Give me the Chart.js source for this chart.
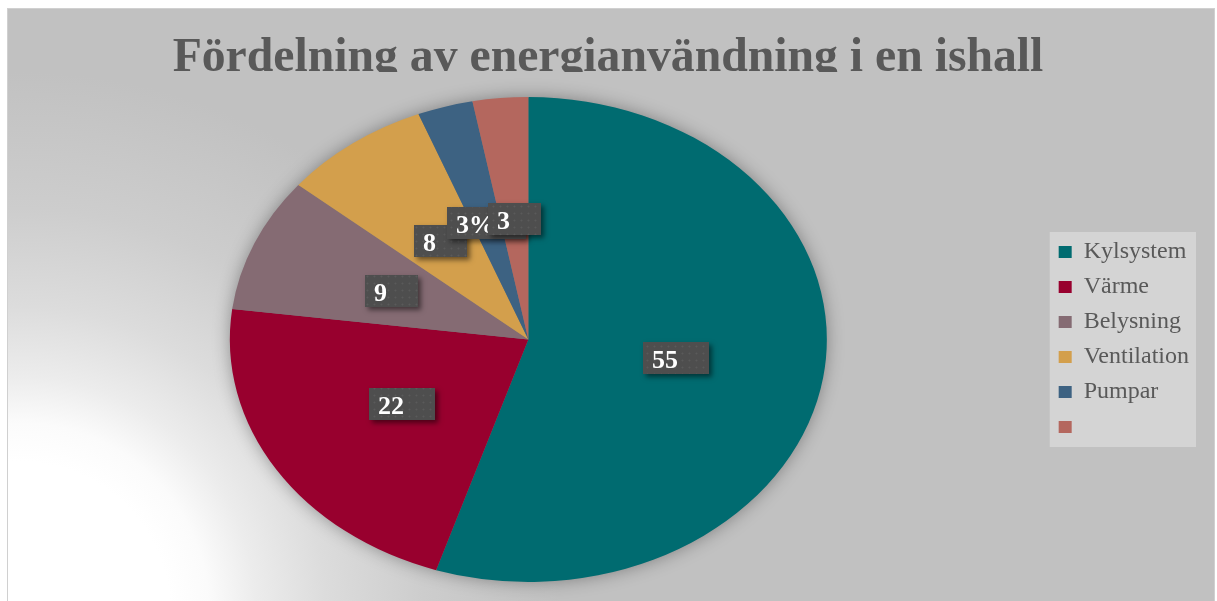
<!DOCTYPE html>
<html lang="sv">
<head>
<meta charset="utf-8">
<title>Fördelning av energianvändning i en ishall</title>
<script src="https://cdn.jsdelivr.net/npm/chart.js@4.4.1/dist/chart.umd.min.js"></script>
<style>
    html, body { margin: 0; padding: 0; background: #fff; overflow: hidden; }
    #wrap { width: 1217px; height: 601px; }
</style>
</head>
<body>
<div id="wrap"><canvas id="ishallChart" width="1217" height="601"></canvas></div>
<script>
// Datos del gráfico
const chartTitle = 'Fördelning av energianvändning i en ishall';
// la leyenda original muestra 6 marcadores pero solo 5 nombres
const legendNames = ['Kylsystem', 'Värme', 'Belysning', 'Ventilation', 'Pumpar', ''];
const shares = [55, 22, 9, 8, 3, 3];
const valueLabels = ['55', '22', '9', '8', '3%', '3'];
const sliceColors = ['#006b70', '#98002e', '#856b73', '#d39f4c', '#3d6282', '#b4675e'];

const serif = '"Liberation Serif", "Times New Roman", serif';
const stretchX = 298.5 / 242.5; // la torta es una elipse, más ancha que alta

// Patrón punteado de las etiquetas
const tile = document.createElement('canvas');
tile.width = 7; tile.height = 7;
const tctx = tile.getContext('2d');
tctx.fillStyle = '#4e4e4e';
tctx.fillRect(0, 0, 7, 7);
tctx.fillStyle = '#5a5a5a';
tctx.beginPath(); tctx.arc(3.5, 3.5, 1.1, 0, Math.PI * 2); tctx.fill();

// Fondo, título y caja de leyenda
const backdrop = {
    id: 'backdrop',
    beforeDraw(chart) {
        const ctx = chart.ctx;
        ctx.save();
        ctx.fillStyle = '#fff';
        ctx.fillRect(0, 0, chart.width, chart.height);
        const g = ctx.createRadialGradient(20, 612, 150, 20, 612, 540);
        g.addColorStop(0, '#ffffff');
        g.addColorStop(0.1, '#fbfbfb');
        g.addColorStop(0.22, '#ececec');
        g.addColorStop(0.4, '#dcdcdc');
        g.addColorStop(0.65, '#cdcdcd');
        g.addColorStop(1, '#c1c1c1');
        ctx.fillStyle = g;
        ctx.fillRect(7, 8, 1208, 600);
        ctx.strokeStyle = '#d0d0d0';
        ctx.lineWidth = 1;
        ctx.strokeRect(7.5, 8.5, 1207, 600);

        // título recortado abajo, como en el original
        ctx.beginPath();
        ctx.rect(0, 0, chart.width, 72);
        ctx.clip();
        let size = 50;
        ctx.font = `bold ${size}px ${serif}`;
        size = size * 871 / ctx.measureText(chartTitle).width;
        ctx.font = `bold ${size}px ${serif}`;
        ctx.fillStyle = '#595959';
        ctx.textAlign = 'center';
        ctx.textBaseline = 'alphabetic';
        ctx.fillText(chartTitle, 608, 71);
        ctx.restore();

        const boxes = chart.legend && chart.legend.legendHitBoxes;
        if (boxes && boxes.length) {
            const l = Math.min(...boxes.map(b => b.left)) - 9;
            const r = Math.max(...boxes.map(b => b.left + b.width)) + 7;
            const t = boxes[0].top - 8;
            const b = boxes[boxes.length - 1].top + boxes[boxes.length - 1].height + 8;
            ctx.save();
            ctx.fillStyle = '#d4d4d4';
            ctx.fillRect(l, t, r - l, b - t);
            ctx.restore();
        }
    }
};

// Estirar la torta en horizontal (elipse) + sombra suave
let stretched = false;
const ellipsePie = {
    id: 'ellipsePie',
    beforeDatasetsDraw(chart) {
        const arc = chart.getDatasetMeta(0).data[0];
        if (!arc) return;
        const ctx = chart.ctx;
        ctx.save();
        stretched = true;
        ctx.translate(arc.x, arc.y);
        ctx.scale(stretchX, 1);
        ctx.translate(-arc.x, -arc.y);
        ctx.save();
        ctx.shadowColor = 'rgba(0,0,0,0.38)';
        ctx.shadowBlur = 18;
        ctx.fillStyle = '#7a7a7a';
        ctx.beginPath();
        ctx.arc(arc.x, arc.y, arc.outerRadius - 1, 0, Math.PI * 2);
        ctx.fill();
        ctx.restore();
    },
    afterDatasetsDraw(chart) {
        if (stretched) { chart.ctx.restore(); stretched = false; }
    }
};

// Etiquetas de valor en cajas oscuras
const valueBoxes = {
    id: 'valueBoxes',
    afterDraw(chart) {
        const meta = chart.getDatasetMeta(0);
        const ctx = chart.ctx;
        const dots = ctx.createPattern(tile, 'repeat');
        ctx.save();
        ctx.font = `bold 26px ${serif}`;
        ctx.textBaseline = 'alphabetic';
        meta.data.forEach((arc, i) => {
            const p = arc.tooltipPosition();
            const x = arc.x + (p.x - arc.x) * stretchX;
            const y = p.y;
            const text = valueLabels[i];
            const w = ctx.measureText(text).width + 40;
            const h = 32;
            const left = Math.round(x - w / 2), top = Math.round(y - h / 2);
            ctx.save();
            ctx.shadowColor = 'rgba(0,0,0,0.5)';
            ctx.shadowBlur = 5;
            ctx.shadowOffsetX = 3;
            ctx.shadowOffsetY = 3;
            ctx.fillStyle = '#4e4e4e';
            ctx.fillRect(left, top, w, h);
            ctx.restore();
            ctx.fillStyle = dots;
            ctx.fillRect(left, top, w, h);
            ctx.fillStyle = '#ffffff';
            ctx.fillText(text, left + 9, top + 26);
        });
        ctx.restore();
    }
};

const ctx = document.getElementById('ishallChart').getContext('2d');
new Chart(ctx, {
    type: 'pie',
    data: {
        labels: legendNames,
        datasets: [{
            data: shares,
            backgroundColor: sliceColors,
            borderWidth: 0,
            clip: false
        }]
    },
    options: {
        responsive: false,
        animation: false,
        events: [],
        layout: { padding: { top: 97, bottom: 19, left: 9, right: 18 } },
        plugins: {
            tooltip: { enabled: false },
            legend: {
                position: 'right',
                labels: {
                    boxWidth: 13,
                    boxHeight: 12,
                    padding: 11,
                    color: '#595959',
                    font: { family: serif, size: 24 }
                }
            }
        }
    },
    plugins: [backdrop, ellipsePie, valueBoxes]
});
</script>
</body>
</html>
